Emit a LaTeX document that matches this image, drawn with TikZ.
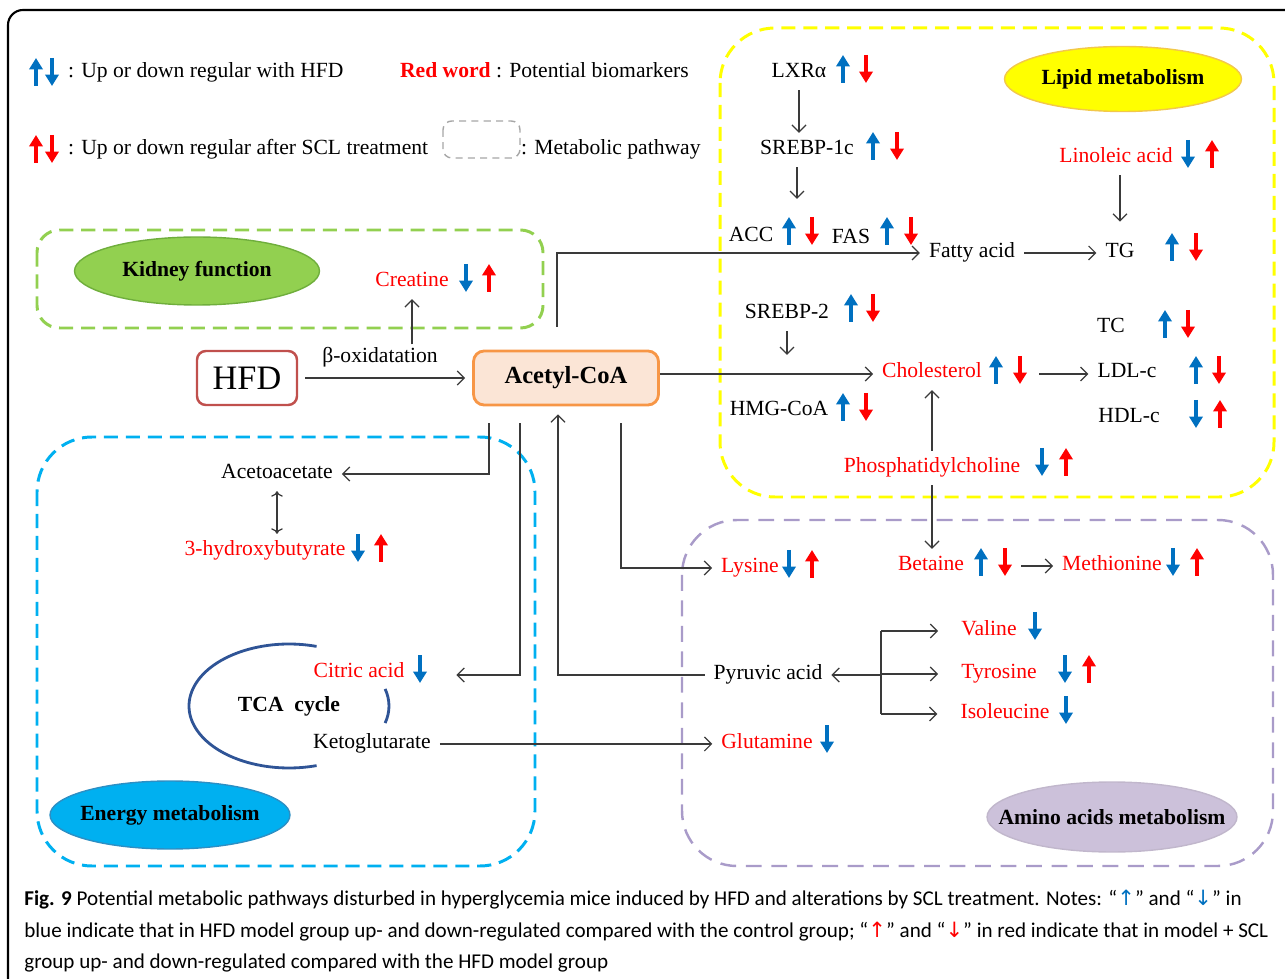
\documentclass[tikz,border=0pt]{standalone}
\usepackage{fontspec}
\setmainfont{Liberation Serif}
\newfontfamily\capfont{Carlito}
\newfontfamily\symfont{DejaVu Sans}
\usetikzlibrary{arrows.meta,calc,shapes.geometric}

\definecolor{upblue}{HTML}{0070C0}
\definecolor{bioRed}{HTML}{FF0000}
\definecolor{lineGray}{HTML}{3A3A3A}
\definecolor{lipidY}{HTML}{FFFF00}
\definecolor{lipidEdge}{HTML}{F2C84B}
\definecolor{kidG}{HTML}{92D050}
\definecolor{kidEdge}{HTML}{6FAE3C}
\definecolor{energyB}{HTML}{00B0F0}
\definecolor{energyEdge}{HTML}{2C8FC4}
\definecolor{aminoP}{HTML}{A99BC9}
\definecolor{aminoFill}{HTML}{CCC1DA}
\definecolor{hfdEdge}{HTML}{C0504D}
\definecolor{acetylFill}{HTML}{FBE5D6}
\definecolor{acetylEdge}{HTML}{F79646}
\definecolor{tcaBlue}{HTML}{2F5496}

% thick up / down marks next to the metabolites
\def\bup(#1,#2){\draw[ind,upblue] (#1,#2+16) -- (#1,#2-12);}
\def\bdn(#1,#2){\draw[ind,upblue] (#1,#2-12) -- (#1,#2+16);}
\def\rup(#1,#2){\draw[ind,bioRed] (#1,#2+16) -- (#1,#2-12);}
\def\rdn(#1,#2){\draw[ind,bioRed] (#1,#2-12) -- (#1,#2+16);}

\begin{document}
\begin{tikzpicture}[x=0.02cm,y=-0.02cm,
	lbl/.style={font=\fontsize{12.3}{14}\selectfont,inner sep=1pt,text height=1.6ex,text depth=.4ex,yshift=-1.7pt},
	bio/.style={lbl,text=bioRed},
	conn/.style={draw=lineGray,line width=0.7pt,-{Straight Barb[length=4pt,width=8pt]},shorten >=4pt,shorten <=4pt},
	ind/.style={line width=1.8pt,-{Triangle[width=7.5pt,length=6.5pt]}},
	zone/.style={dash pattern=on 8pt off 4.5pt,line width=1.7pt,rounded corners=1.1cm},
	tag/.style={ellipse,font=\bfseries\fontsize{12.3}{14}\selectfont,inner xsep=-3cm,inner ysep=-1cm,line width=0.8pt},
	capstyle/.style={font=\capfont\fontsize{12}{17.9}\selectfont,align=left,inner sep=0pt}]
	\useasboundingbox (0,0) rectangle (1285,979);
	
	% frame
	\draw[line width=1.2pt,rounded corners=0.3cm] (1285,10) -- (8,10) -- (8,979);
	
	% legend
	\bup(36,70) \bdn(52,70)
	\node[lbl,anchor=west] (legHFD) at (66,70) {: Up or down regular with HFD};
	\node[lbl,anchor=west] (legRed) at (398,70) {\textcolor{bioRed}{\textbf{Red word}} : Potential biomarkers};
	\rup(36,147) \rdn(52,147)
	\node[lbl,anchor=west] (legSCL) at (66,147) {: Up or down regular after SCL treatment};
	\draw[draw=gray!70,line width=0.8pt,dash pattern=on 4pt off 3pt,rounded corners=5pt] (443,121) rectangle (520,158);
	\node[lbl,anchor=west] (legPath) at (519,147) {: Metabolic pathway};
	
	% pathway zones
	\draw[zone,draw=lipidY] (720,28) rectangle (1274,497);
	\draw[zone,draw=kidG,rounded corners=0.45cm] (37,230) rectangle (543,328);
	\draw[zone,draw=energyB] (37,437) rectangle (535,866);
	\draw[zone,draw=aminoP,line width=1.4pt,dash pattern=on 9pt off 5.5pt] (682,520) rectangle (1273,866);
	
	\node[tag,fill=lipidY,draw=lipidEdge,minimum width=4.74cm,minimum height=1.3cm] (lipid) at (1123,79) {Lipid metabolism};
	\node[tag,fill=kidG,draw=kidEdge,minimum width=4.9cm,minimum height=1.36cm] (kidney) at (197,271) {Kidney function};
	\node[tag,fill=energyB,draw=energyEdge,minimum width=4.8cm,minimum height=1.36cm] (energy) at (170,815) {Energy metabolism};
	\node[tag,fill=aminoFill,draw=aminoFill!85!gray,minimum width=5cm,minimum height=1.4cm] (amino) at (1112,817) {Amino acids metabolism};
	
	% centre
	\node[draw=hfdEdge,line width=1.4pt,rounded corners=5pt,minimum width=2cm,minimum height=1.08cm,font=\fontsize{19.5}{22}\selectfont] (hfd) at (247,378) {HFD};
	\node[draw=acetylEdge,fill=acetylFill,line width=1.6pt,rounded corners=6pt,minimum width=3.7cm,minimum height=1.08cm,font=\bfseries\fontsize{14}{16}\selectfont] (acetyl) at (566,378) {Acetyl-CoA};
	\node[lbl] (beta) at (380,355) {β-oxidatation};
	\draw[conn] (hfd.east) -- (acetyl.west);
	
	% kidney
	\node[bio] (creatine) at (412,279) {Creatine};
	\bdn(466,276) \rup(489,276)
	\draw[conn,shorten <=2pt] (beta.north -| creatine) -- (creatine.south);
	
	% lipid metabolism
	\node[lbl] (lxr) at (799,70) {LXRα};
	\bup(843,67) \rdn(866,67)
	\node[lbl] (srebpa) at (807,147) {SREBP-1c};
	\bup(873,144) \rdn(897,144)
	\coordinate (enz) at (797,206);
	\node[lbl] (acc) at (751,234) {ACC};
	\bup(789,229) \rdn(812,229)
	\node[lbl] (fas) at (851,236) {FAS};
	\bup(887,229) \rdn(911,229)
	\node[lbl] (fatty) at (972,250) {Fatty acid};
	\node[lbl] (tg) at (1120,250) {TG};
	\bup(1172,245) \rdn(1196,245)
	\node[bio] (linoleic) at (1116,155) {Linoleic acid};
	\bdn(1188,152) \rup(1212,152)
	\node[lbl] (srebpb) at (787,311) {SREBP-2};
	\bup(851,306) \rdn(873,306)
	\coordinate (sterol) at (787,362);
	\node[lbl] (hmg) at (779,408) {HMG-CoA};
	\bup(843,405) \rdn(866,405)
	\node[bio] (cholesterol) at (932,370) {Cholesterol};
	\bup(996,368) \rdn(1020,368)
	\coordinate (cholout) at (1032,374);
	\node[lbl] (tc) at (1111,325) {TC};
	\bup(1165,322) \rdn(1188,322)
	\node[lbl] (ldl) at (1127,370) {LDL-c};
	\bup(1196,368) \rdn(1219,368)
	\node[lbl] (hdl) at (1129,415) {HDL-c};
	\bdn(1196,412) \rup(1220,412)
	\node[bio] (phos) at (932,465) {Phosphatidylcholine};
	\bdn(1042,460) \rup(1066,460)
	
	\draw[conn] (lxr.south) -- (lxr.south |- srebpa.north);
	\draw[conn] (srebpa.south -| enz) -- (enz);
	\draw[conn,shorten <=0pt] ($(acetyl.north)+(-9,-23)$) |- (fatty.west);
	\draw[conn] (fatty.east) -- (tg.west);
	\draw[conn,shorten >=12pt] (linoleic.south -| tg) -- (tg.north);
	\draw[conn] (srebpb.south) -- (sterol);
	\draw[conn,shorten <=0pt] (acetyl.east |- cholout) -- (cholesterol.west |- cholout);
	\draw[conn] (cholout) -- (ldl.west |- cholout);
	\draw[conn] (phos.north) -- (phos.north |- cholesterol.south);
	
	% energy metabolism
	\node[lbl] (acetoacetate) at (277,471) {Acetoacetate};
	\node[bio] (hydroxy) at (265,548) {3-hydroxybutyrate};
	\bdn(358,546) \rup(381,546)
	\node[font=\bfseries\fontsize{12.3}{14}\selectfont] (tca) at (289,706) {TCA\ \ cycle};
	\draw[tcaBlue,line width=1.6pt] ($(tca)+(74:2cm and 1.24cm)$) arc[start angle=74,end angle=286,x radius=2cm,y radius=1.24cm];
	\draw[tcaBlue,line width=1.6pt] ($(tca)+(-16:2cm and 1.24cm)$) arc[start angle=-16,end angle=16,x radius=2cm,y radius=1.24cm];
	\node[bio] (citric) at (359,670) {Citric acid};
	\bdn(420,667)
	\node[lbl] (keto) at (372,741) {Ketoglutarate};
	
	\draw[conn,shorten <=0pt] ($(acetyl.south)+(-77,17)$) |- (acetoacetate.east);
	\draw[conn,<->,shorten <=4pt] (acetoacetate.south) -- (acetoacetate.south |- hydroxy.north);
	\draw[conn,shorten <=0pt,shorten >=0pt] ($(acetyl.south)+(-46,17)$) |- ($(citric.east)+(50,2)$);
	
	% amino acids metabolism
	\node[bio] (lysine) at (750,565) {Lysine};
	\bdn(789,562) \rup(812,562)
	\node[bio] (betaine) at (931,563) {Betaine};
	\bup(981,560) \rdn(1005,560)
	\coordinate (betout) at (1014,566);
	\node[bio] (methionine) at (1112,563) {Methionine};
	\bdn(1173,560) \rup(1197,560)
	\node[lbl] (pyruvic) at (768,672) {Pyruvic acid};
	\coordinate (fork) at (881,673);
	\node[bio] (valine) at (989,628) {Valine};
	\bdn(1035,624)
	\node[bio] (tyrosine) at (999,671) {Tyrosine};
	\bdn(1065,667) \rup(1089,667)
	\node[bio] (isoleucine) at (1005,711) {Isoleucine};
	\bdn(1066,708)
	\node[bio] (glutamine) at (767,741) {Glutamine};
	\bdn(827,737)
	
	\draw[conn,shorten <=0pt] ($(acetyl.south)+(55,17)$) |- (lysine.west);
	\draw[conn] (phos.south) -- (phos.south |- betaine.north);
	\draw[conn] (betout) -- (methionine.west |- betout);
	\draw[conn,shorten >=0pt] (pyruvic.west) -| ($(acetyl.south)+(-8,8)$);
	\draw[conn,shorten <=0pt] (fork |- pyruvic.east) -- (pyruvic.east);
	\draw[lineGray,line width=0.7pt] (fork |- valine) -- (fork |- isoleucine);
	\draw[conn,shorten <=0pt,shorten >=12pt] (fork |- valine) -- (valine.west);
	\draw[conn,shorten <=0pt,shorten >=12pt] (fork |- tyrosine) -- (tyrosine.west);
	\draw[conn,shorten <=0pt,shorten >=12pt] (fork |- isoleucine) -- (isoleucine.west);
	\draw[conn] (keto.east) -- (keto.east -| glutamine.west);
	
	% caption
	\node[capstyle,anchor=north west] (caption) at (24,890) {\textbf{Fig. 9} Potential metabolic pathways disturbed in hyperglycemia mice induced by HFD and alterations by SCL treatment. Notes: “{\symfont\textcolor{upblue}{↑}}” and “{\symfont\textcolor{upblue}{↓}}” in\\
		blue indicate that in HFD model group up- and down-regulated compared with the control group; “{\symfont\textcolor{bioRed}{↑}}” and “{\symfont\textcolor{bioRed}{↓}}” in red indicate that in model + SCL\\
		group up- and down-regulated compared with the HFD model group};
\end{tikzpicture}
\end{document}
